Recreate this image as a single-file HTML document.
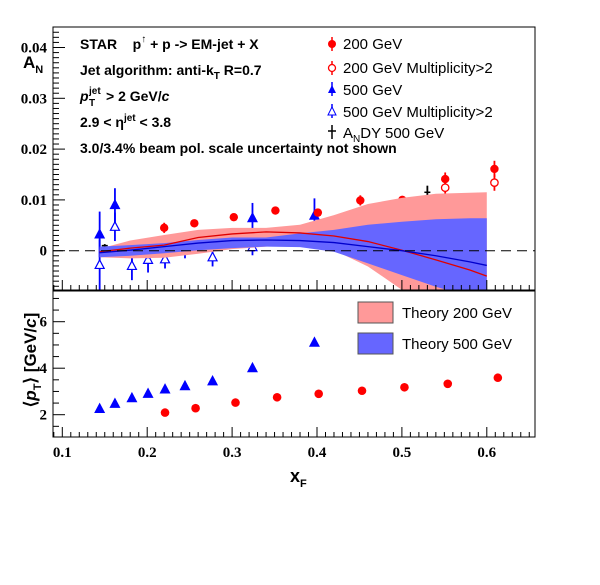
<!DOCTYPE html>
<html><head><meta charset="utf-8"><style>
body{margin:0;background:#fff}
svg{display:block}
.tk{font-family:"Liberation Serif",serif;font-weight:bold;font-size:15px}
.tx{font-family:"Liberation Sans",sans-serif;font-weight:bold;font-size:14px}
.lg{font-family:"Liberation Sans",sans-serif;font-size:15px}
</style></head><body>
<svg id="chart" width="600" height="585" viewBox="0 0 600 585">
<g id="gtop"></g>
<g id="gbot"></g>
<g>
<text class="tx" x="80" y="49">STAR &#160;&#160; p<tspan dy="-7" style="font-size:10px">↑</tspan><tspan dy="7"> + p -&gt; EM-jet + X</tspan></text>
<text class="tx" x="80" y="75">Jet algorithm: anti-k<tspan dy="4" style="font-size:10px">T</tspan><tspan dy="-4"> R=0.7</tspan></text>
<g>
<text class="tx" x="80" y="101" font-style="italic">p</text>
<text class="tx" x="89" y="94" style="font-size:10px">jet</text>
<text class="tx" x="89" y="106" style="font-size:10px">T</text>
<text class="tx" x="106" y="101">&gt; 2 GeV/<tspan font-style="italic">c</tspan></text>
</g>
<text class="tx" x="80" y="127">2.9 &lt; η<tspan dy="-6" style="font-size:10px">jet</tspan><tspan dy="6"> &lt; 3.8</tspan></text>
<text class="tx" x="80" y="153">3.0/3.4% beam pol. scale uncertainty not shown</text>
<text x="23" y="68" font-family="Liberation Sans,sans-serif" font-weight="bold" font-size="17">A<tspan dy="5" font-size="11">N</tspan></text>
<text transform="translate(36,360) rotate(-90)" text-anchor="middle" font-family="Liberation Sans,sans-serif" font-weight="bold" font-size="17">⟨<tspan font-style="italic">p</tspan><tspan dy="5" font-size="11">T</tspan><tspan dy="-5">⟩ [GeV/</tspan><tspan font-style="italic">c</tspan>]</text>
<text x="290" y="482" font-family="Liberation Sans,sans-serif" font-weight="bold" font-size="18">x<tspan dy="5" font-size="11">F</tspan></text>
</g>
<g>
<g><line x1="332" y1="37" x2="332" y2="51" stroke="#f00" stroke-width="1.5"/><circle cx="332" cy="44" r="4" fill="#f00"/><text class="lg" x="343" y="49">200 GeV</text></g>
<g><line x1="332" y1="61" x2="332" y2="75" stroke="#f00" stroke-width="1.5"/><circle cx="332" cy="68" r="3.5" fill="#fff" stroke="#f00" stroke-width="1.3"/><text class="lg" x="343" y="73">200 GeV Multiplicity&gt;2</text></g>
<g><line x1="332" y1="82" x2="332" y2="96" stroke="#00f" stroke-width="1.5"/><path d="M328,93 L336,93 L332,85 Z" fill="#00f"/><text class="lg" x="343" y="95">500 GeV</text></g>
<g><line x1="332" y1="104" x2="332" y2="118" stroke="#00f" stroke-width="1.5"/><path d="M328,115 L336,115 L332,107 Z" fill="#fff" stroke="#00f"/><text class="lg" x="343" y="117">500 GeV Multiplicity&gt;2</text></g>
<g><line x1="332" y1="125" x2="332" y2="139" stroke="#000" stroke-width="1.5"/><line x1="328" y1="131" x2="336" y2="131" stroke="#000" stroke-width="1.5"/><text class="lg" x="343" y="138">A<tspan dy="4" font-size="10">N</tspan><tspan dy="-4">DY 500 GeV</tspan></text></g>
</g>
<g>
<g><rect x="358" y="302" width="35" height="21" fill="#ff9999" stroke="#555"/><text class="lg" x="402" y="318">Theory 200 GeV</text></g>
<g><rect x="358" y="333" width="35" height="21" fill="#6666ff" stroke="#555"/><text class="lg" x="402" y="349">Theory 500 GeV</text></g>
</g>
</svg>
<script>
// data
const x200 = [0.220,0.2555,0.302,0.351,0.401,0.451,0.5005,0.551,0.609];
const an200 = [0.0045,0.0054,0.0066,0.0079,0.0075,0.0099,0.0100,0.0141,0.0161];
const er200 = [0.0010,0.0005,0.0005,0.0005,0.0008,0.0010,0.0008,0.0013,0.0016];
const x200m = [0.551,0.609];
const an200m = [0.0124,0.0134];
const er200m = [0.0012,0.0016];
const x500 = [0.144,0.162,0.182,0.201,0.221,0.2445,0.277,0.324,0.397];
const an500 = [0.0032,0.0090,0.0000,0.0005,0.0010,0.0005,0.0010,0.0064,0.0069];
const er500 = [0.0045,0.0033,0.0020,0.0020,0.0010,0.0020,0.0010,0.0030,0.0034];
const x500m = [0.144,0.162,0.182,0.201,0.221,0.277,0.324];
const an500m = [-0.0028,0.0047,-0.0030,-0.0018,-0.0017,-0.0013,0.0007];
const er500m = [0.0050,0.0028,0.0028,0.0025,0.0018,0.0018,0.0016];
const xandy = [0.150,0.530];
const anandy = [0.0010,0.0115];
const erandy = [0.0003,0.0013];
const xth = [0.144,0.18,0.22,0.26,0.30,0.34,0.38,0.42,0.46,0.50,0.54,0.58,0.60];
const th200hi = [0.0004,0.0020,0.0031,0.0041,0.0045,0.0045,0.0051,0.0070,0.0092,0.0104,0.0112,0.0114,0.0115];
const th200lo = [-0.0013,-0.0015,-0.0014,-0.0006,0.0003,0.0008,0.0015,0.0001,-0.0031,-0.0077,-0.0120,-0.0160,-0.0180];
const th200c = [-0.0002,0.0005,0.0011,0.0026,0.0033,0.0037,0.0035,0.0029,0.0018,0.0001,-0.0018,-0.0038,-0.0050];
const th500hi = [0.0008,0.0011,0.0015,0.0021,0.0026,0.0026,0.0034,0.0041,0.0051,0.0057,0.0062,0.0064,0.0064];
const th500lo = [-0.0013,-0.0010,-0.0005,0.0001,0.0005,0.0008,0.0007,-0.0002,-0.0025,-0.0048,-0.0071,-0.0090,-0.0100];
const th500c = [-0.0004,0.0001,0.0008,0.0015,0.0020,0.0021,0.0020,0.0016,0.0008,0.0000,-0.0010,-0.0022,-0.0029];
const xpt200 = [0.221,0.257,0.304,0.353,0.402,0.453,0.503,0.554,0.613];
const pt200 = [2.09,2.28,2.52,2.75,2.90,3.03,3.18,3.33,3.59];
const xpt500 = [0.144,0.162,0.182,0.201,0.221,0.2445,0.277,0.324,0.397];
const pt500 = [2.25,2.47,2.71,2.90,3.09,3.23,3.44,4.00,5.10];
const xTicks = [0.1,0.2,0.3,0.4,0.5,0.6];
const anTicks = [0,0.01,0.02,0.03,0.04];
const ptTicks = [2,4,6];

const NS='http://www.w3.org/2000/svg';
const X=v=>62.3+(v-0.1)*849;
const YA=v=>250.7-v*5080;
const YP=v=>414.7-(v-2)*23.25;
const FL=53,FR=535,T1=27,B1=290,T2=291,B2=437;
function mk(p,tag,at){const e=document.createElementNS(NS,tag);for(const k in at)e.setAttribute(k,at[k]);p.appendChild(e);return e;}
const gTop=document.getElementById('gtop'), gBot=document.getElementById('gbot');
const defs=mk(gTop,'defs',{});
const cp=mk(defs,'clipPath',{id:'c1'});mk(cp,'rect',{x:FL,y:T1,width:FR-FL,height:B1-T1});
const gT=mk(gTop,'g',{'clip-path':'url(#c1)'});

function errbar(g,x,y,e,col,Yf){return mk(g,'line',{x1:X(x),x2:X(x),y1:Yf(y+e),y2:Yf(y-e),stroke:col,'stroke-width':1.8});}
function tri(g,x,y,fill,col){return mk(g,'path',{d:`M${x-4.5},${y+3.5} L${x+4.5},${y+3.5} L${x},${y-5} Z`,fill:fill,stroke:col,'stroke-width':1.2});}

x500m.forEach((x,i)=>{const g=mk(gT,'g',{});


errbar(g,x,an500m[i],er500m[i],'#00f',YA);tri(g,X(x),YA(an500m[i]),'#fff','#00f');});
x500.forEach((x,i)=>{const g=mk(gT,'g',{});


errbar(g,x,an500[i],er500[i],'#00f',YA);tri(g,X(x),YA(an500[i]),'#00f','#00f');});
x200.forEach((x,i)=>{const g=mk(gT,'g',{});


errbar(g,x,an200[i],er200[i],'#f00',YA);mk(g,'circle',{cx:X(x),cy:YA(an200[i]),r:4.2,fill:'#f00'});});
x200m.forEach((x,i)=>{const g=mk(gT,'g',{});


errbar(g,x,an200m[i],er200m[i],'#f00',YA);mk(g,'circle',{cx:X(x),cy:YA(an200m[i]),r:3.7,fill:'#fff',stroke:'#f00','stroke-width':1.3});});
xandy.forEach((x,i)=>{const g=mk(gT,'g',{});


errbar(g,x,anandy[i],erandy[i],'#000',YA);mk(g,'line',{x1:X(x)-3,x2:X(x)+3,y1:YA(anandy[i]),y2:YA(anandy[i]),stroke:'#000','stroke-width':1.5});});

function band(hi,lo,col,name){let d='';xth.forEach((x,i)=>{d+=(i?'L':'M')+X(x)+','+YA(hi[i])+' ';});
for(let i=xth.length-1;i>=0;i--)d+='L'+X(xth[i])+','+YA(lo[i])+' ';
const p=mk(gT,'path',{d:d+'Z',fill:col});

}
function line(c,col,name){const p=mk(gT,'path',{d:xth.map((x,i)=>(i?'L':'M')+X(x)+','+YA(c[i])).join(' '),fill:'none',stroke:col,'stroke-width':1.3});

}
band(th200hi,th200lo,'#ff9999','theory-band-200');
band(th500hi,th500lo,'#6666ff','theory-band-500');
line(th200c,'#e00000','theory-line-200');
line(th500c,'#0000cc','theory-line-500');
const zl=mk(gT,'line',{x1:FL,x2:FR,y1:YA(0),y2:YA(0),stroke:'#000','stroke-width':1,'stroke-dasharray':'10,6'});



const f1=mk(gTop,'rect',{x:FL,y:T1,width:FR-FL,height:B1-T1,fill:'none',stroke:'#000','stroke-width':1});


const f2=mk(gBot,'rect',{x:FL,y:T2,width:FR-FL,height:B2-T2,fill:'none',stroke:'#000','stroke-width':1});



for(let k=9;k<=66;k++){const vv=k/100;const xp=X(vv);if(xp<FL||xp>FR)continue;
const h=(k%10===0)?10:5;
mk(gTop,'line',{x1:xp,x2:xp,y1:B1,y2:B1-h,stroke:'#000'});
mk(gBot,'line',{x1:xp,x2:xp,y1:B2,y2:B2-h,stroke:'#000'});}
xTicks.forEach(v=>{const t=mk(gBot,'text',{x:X(v),y:B2+20,'text-anchor':'middle',class:'tk'});t.textContent=v.toFixed(1);

});
for(let k=-7;k<=43;k++){const yp=YA(k*0.001);if(yp<T1||yp>B1)continue;const h=(k%10===0)?12:6;
mk(gTop,'line',{x1:FL,x2:FL+h,y1:yp,y2:yp,stroke:'#000'});}
anTicks.forEach(v=>{const t=mk(gTop,'text',{x:FL-6,y:YA(v)+5,'text-anchor':'end',class:'tk'});t.textContent=v===0?'0':v.toFixed(2);

});
for(let k=2;k<=14;k++){const yp=YP(k*0.5);if(yp<T2||yp>B2)continue;const h=(k%4===0)?12:6;
mk(gBot,'line',{x1:FL,x2:FL+h,y1:yp,y2:yp,stroke:'#000'});}
ptTicks.forEach(v=>{const t=mk(gBot,'text',{x:FL-6,y:YP(v)+5,'text-anchor':'end',class:'tk'});t.textContent=String(v);

});
xpt500.forEach((x,i)=>{const p=tri(gBot,X(x),YP(pt500[i]),'#00f','#00f');

});
xpt200.forEach((x,i)=>{const c=mk(gBot,'circle',{cx:X(x),cy:YP(pt200[i]),r:4.3,fill:'#f00'});

});
</script>
</body></html>
